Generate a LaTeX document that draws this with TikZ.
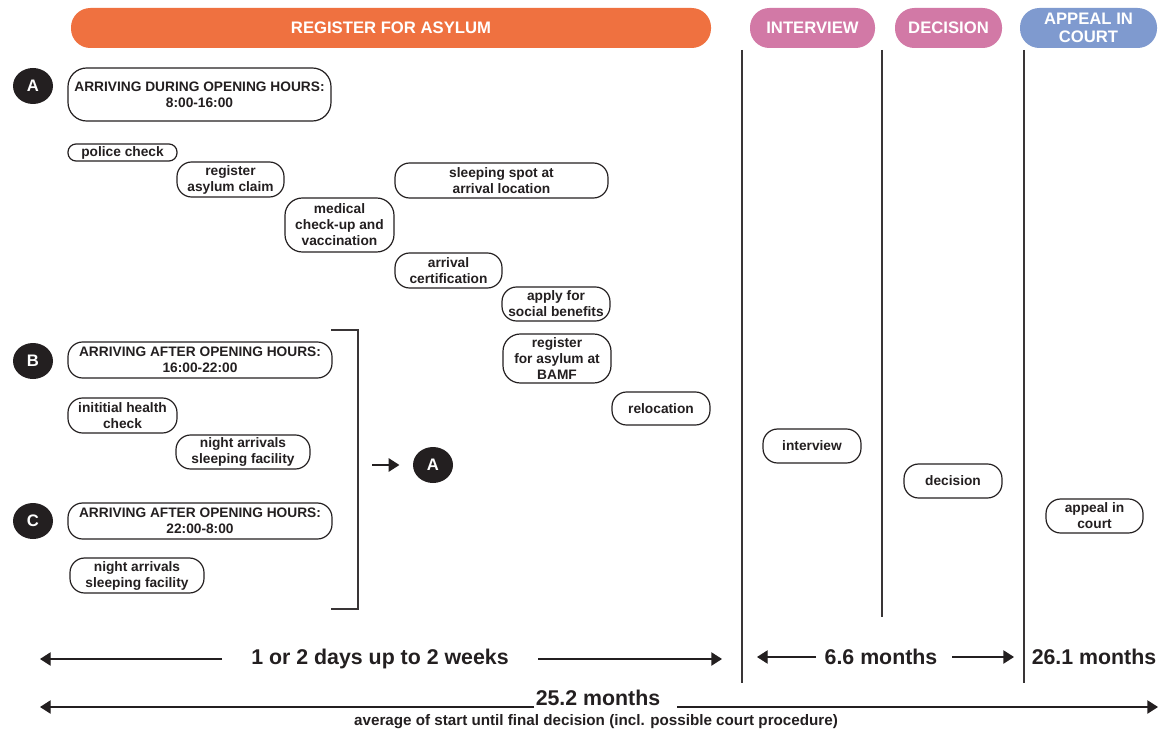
\documentclass[tikz,border=0pt]{standalone}
\usepackage{fontspec}
\setmainfont{Liberation Sans}
\usetikzlibrary{arrows.meta,shapes.geometric}
\definecolor{regorange}{HTML}{EF7140}
\definecolor{phasepink}{HTML}{D279A6}
\definecolor{courtblue}{HTML}{7F9ACF}
\definecolor{inkdark}{HTML}{231F20}

\begin{document}
\begin{tikzpicture}[x=0.75pt,y=-0.75pt,
  stage/.style={draw=inkdark, line width=0.9pt, rounded corners=11pt, inner sep=0pt,
    align=center, text=inkdark, font=\bfseries\fontsize{10.3}{12}\selectfont},
  phase/.style={rounded corners=14.5pt, inner sep=0pt, text=white, align=center,
    font=\bfseries\fontsize{12.5}{13.5}\selectfont},
  badge/.style={ellipse, fill=inkdark, minimum width=30pt, minimum height=27pt, inner sep=0pt,
    text=white, font=\bfseries\fontsize{12.5}{13}\selectfont},
  span/.style={text=inkdark, inner sep=0pt, font=\bfseries\fontsize{16}{17}\selectfont},
  dim/.style={line width=1pt, draw=inkdark, -{Triangle[length=8pt,width=10pt]}},
  rule/.style={line width=1.1pt, draw=inkdark!90},
  sz/.style 2 args={minimum width=#1*0.75pt, minimum height=#2*0.75pt}
]
\useasboundingbox (0,0) rectangle (1170,731);

% phase headers
\node[phase, fill=regorange, sz={640}{40}] (pReg) at (391,28) {REGISTER FOR ASYLUM};
\node[phase, fill=phasepink, sz={125}{40}] (pInt) at (812.5,28) {INTERVIEW};
\node[phase, fill=phasepink, sz={107}{40}] (pDec) at (948.5,28) {DECISION};
\node[phase, fill=courtblue, sz={137}{40}] (pApp) at (1088.5,28) {APPEAL IN\\COURT};

% phase separators
\draw[rule] (742,50) -- (742,683);
\draw[rule] (882,50) -- (882,617);
\draw[rule] (1024,50) -- (1024,683);

% case A: arriving during opening hours
\node[badge] (bA) at (33,86) {A};
\node[stage, sz={263}{53}, rounded corners=14pt] (arrA) at (199.5,94.5) {ARRIVING DURING OPENING HOURS:\\8:00-16:00};
\node[stage, sz={109}{17}, rounded corners=6pt] (police) at (122.5,152.5) {police check};
\node[stage, sz={107}{35}] (claim) at (230.5,179.5) {register\\asylum claim};
\node[stage, sz={109}{54}, rounded corners=13pt] (medical) at (339.5,225) {medical\\check-up and\\vaccination};
\node[stage, sz={213}{35}] (sleep) at (501.5,180.5) {sleeping spot at\\arrival location};
\node[stage, sz={107}{35}] (cert) at (448.5,270.5) {arrival\\certification};
\node[stage, sz={108}{34}] (benefit) at (556,304) {apply for\\social benefits};
\node[stage, sz={108}{49}, rounded corners=13pt] (bamf) at (557,358.5) {register\\for asylum at\\BAMF};
\node[stage, sz={98}{33}] (reloc) at (661,408.5) {relocation};

% case B: arriving 16:00-22:00
\node[badge] (bB) at (33,361) {B};
\node[stage, sz={264}{36}] (arrB) at (200,360) {ARRIVING AFTER OPENING HOURS:\\16:00-22:00};
\node[stage, sz={109}{35}] (health) at (122.5,415.5) {inititial health\\check};
\node[stage, sz={134}{34}] (nightB) at (243,452) {night arrivals\\sleeping facility};

% case C: arriving 22:00-8:00
\node[badge] (bC) at (33,521) {C};
\node[stage, sz={264}{36}] (arrC) at (200,521) {ARRIVING AFTER OPENING HOURS:\\22:00-8:00};
\node[stage, sz={134}{35}] (nightC) at (137,575.5) {night arrivals\\sleeping facility};

% B and C continue as A
\coordinate (br1) at (331,330);
\coordinate (br2) at (358,330);
\coordinate (br3) at (358,609);
\coordinate (br4) at (331,609);
\draw[rule] (br1) -- (br2) -- (br3) -- (br4);
\node[badge] (bA2) at (433,465) {A};
\coordinate (toA) at (372,465);
\draw[dim] (toA) -- (bA2.west) [shorten >=10pt];

% later stages
\node[stage, sz={98}{34}] (interview) at (812,446) {interview};
\node[stage, sz={98}{34}] (decision) at (953,481) {decision};
\node[stage, sz={97}{34}] (appeal) at (1094.5,516) {appeal in\\court};

% durations
\node[span] (d1) at (380,659) {1 or 2 days up to 2 weeks};
\coordinate (d1L) at (40,659);
\coordinate (d1R) at (722,659);
\coordinate (d1a) at (222,659);
\coordinate (d1b) at (538,659);
\draw[dim] (d1a) -- (d1L);
\draw[dim] (d1b) -- (d1R);

\node[span] (d2) at (881,657) {6.6 months};
\coordinate (d2L) at (757,657);
\coordinate (d2R) at (1014,657);
\coordinate (d2a) at (816,657);
\coordinate (d2b) at (952,657);
\draw[dim] (d2a) -- (d2L);
\draw[dim] (d2b) -- (d2R);

\node[span] (d3) at (1094,657) {26.1 months};

\node[span] (d4) at (598,698) {25.2 months};
\coordinate (d4L) at (40,707);
\coordinate (d4R) at (1158,707);
\coordinate (d4a) at (534,707);
\coordinate (d4b) at (677,707);
\draw[dim] (d4a) -- (d4L);
\draw[dim] (d4b) -- (d4R);
\node[text=inkdark, inner sep=0pt, font=\bfseries\fontsize{11.4}{12}\selectfont] (avg) at (596,722)
  {average of start until final decision (incl. possible court procedure)};
\end{tikzpicture}
\end{document}
